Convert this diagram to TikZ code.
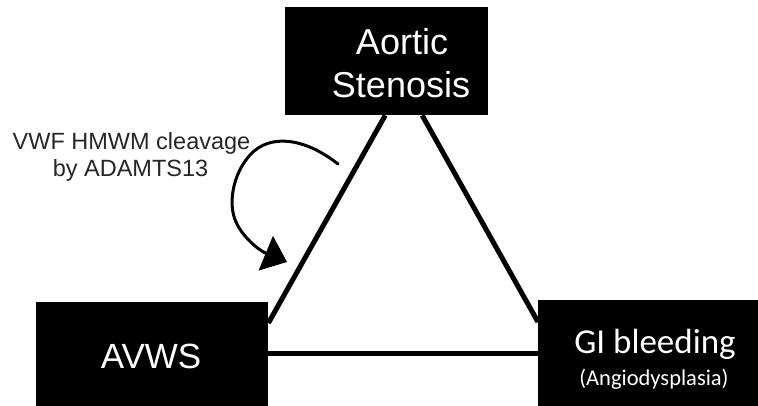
\documentclass[tikz,border=0pt]{standalone}
\usepackage{fontspec}
\setmainfont{Liberation Sans}
\newfontfamily\calibri{Carlito}
\usetikzlibrary{arrows.meta}
\begin{document}
\begin{tikzpicture}[x=1pt,y=-1pt,
  blackbox/.style={fill=black,draw=none,inner sep=0pt,anchor=north west},
  wtext/.style={text=white,inner sep=0pt,anchor=base},
  tri/.style={line width=5pt,black},
  curvearrow/.style={line width=3pt,black,line cap=round,-{Triangle[length=23pt,width=37pt]}}]
\useasboundingbox (0,0) rectangle (758,406);
% boxes
\node[blackbox,minimum width=203pt,minimum height=108pt] (as) at (285,7) {};
\node[blackbox,minimum width=232pt,minimum height=104pt] (avws) at (36,302) {};
\node[blackbox,minimum width=220pt,minimum height=106pt] (gi) at (538,300) {};
% texts
\node[wtext,font=\fontsize{36}{43}\selectfont] (as1) at (402,55) {Aortic};
\node[wtext,font=\fontsize{36}{43}\selectfont] (as2) at (401,98) {Stenosis};
\node[wtext,font=\fontsize{35}{42}\selectfont] (avwst) at (151,368) {AVWS};
\node[wtext,font=\calibri\fontsize{35}{42}\selectfont] (gi1) at (655,353) {GI bleeding};
\node[wtext,font=\calibri\fontsize{22.5}{27}\selectfont] (gi2) at (654,385) {(Angiodysplasia)};
\node[inner sep=0pt,anchor=base,text=black!85,font=\fontsize{23.5}{27}\selectfont] (lab1) at (131.5,150) {VWF HMWM cleavage};
\node[inner sep=0pt,anchor=base,text=black!85,font=\fontsize{23.5}{27}\selectfont] (lab2) at (130.5,177) {by ADAMTS13};
% triangle
\draw[tri] ([xshift=-1.5pt]as.south) -- ([yshift=-21pt]avws.north east);
\draw[tri] ([xshift=35.5pt]as.south) -- ([yshift=-22pt]gi.north west);
\draw[tri] ([yshift=-51pt]avws.north east) -- ([yshift=-53pt]gi.north west);
% curved arrow
\coordinate (cs) at (338,164);
\coordinate (ce) at (287,262);
\draw[curvearrow] (cs) .. controls (305,138) and (270,133) .. (250,155)
  .. controls (232,175) and (228,205) .. (236,222)
  .. controls (242,236) and (258,250) .. (ce);
\end{tikzpicture}
\end{document}
